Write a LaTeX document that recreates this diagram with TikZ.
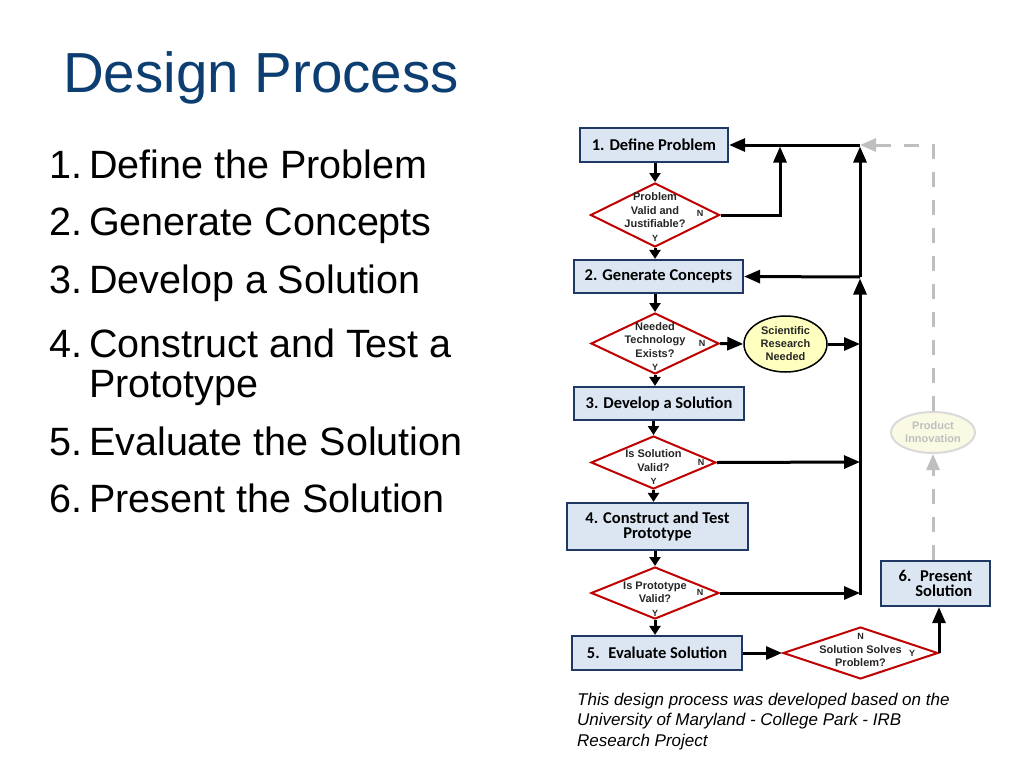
\documentclass[tikz,border=0pt]{standalone}
\usepackage{fontspec}
\setmainfont{Liberation Sans}
\newfontfamily\boxfont{Carlito}
\usetikzlibrary{shapes.geometric,arrows.meta}
\definecolor{titleblue}{RGB}{12,62,114}
\definecolor{boxblue}{RGB}{31,56,100}
\definecolor{boxfill}{RGB}{220,230,242}
\definecolor{qred}{RGB}{192,0,0}
\definecolor{resfill}{RGB}{255,255,192}
\definecolor{innfill}{RGB}{250,250,228}
\definecolor{ghost}{RGB}{191,191,191}
\tikzset{
  item/.style={anchor=base west, inner sep=0pt, font=\fontsize{39.5}{40}\selectfont},
  stepbox/.style={draw=boxblue, line width=2.2pt, fill=boxfill, align=center, inner sep=0pt,
    font=\boxfont\bfseries\fontsize{16.5}{15}\selectfont},
  query/.style={diamond, draw=qred, line width=2pt, fill=white, inner sep=0pt},
  qtext/.style={align=center, inner sep=0pt, text=black!85, font=\bfseries\fontsize{11}{13.5}\selectfont},
  yn/.style={inner sep=0pt, text=black!85, font=\bfseries\fontsize{9}{9}\selectfont},
  link/.style={line width=3pt, -{Triangle[length=9pt,width=11pt]}},
  back/.style={line width=3pt, -{Triangle[length=16pt,width=13pt]}},
  ghostline/.style={draw=ghost, line width=3pt, dash pattern=on 15pt off 13pt,
    -{Triangle[length=16pt,width=13pt]}},
}
\begin{document}
\begin{tikzpicture}[x=1pt,y=-1pt]
    \useasboundingbox[fill=white] (0,0) rectangle (1024,768);
    % Titolo ed elenco
    \node[anchor=base west, inner sep=0pt, text=titleblue, font=\fontsize{56.5}{60}\selectfont] (title) at (63,92) {Design Process};
    \node[item] (n1) at (49,178) {1.};
    \node[item] (t1) at (89,178) {Define the Problem};
    \node[item] (n2) at (49,235) {2.};
    \node[item] (t2) at (89,235) {Generate Concepts};
    \node[item] (n3) at (49,293) {3.};
    \node[item] (t3) at (89,293) {Develop a Solution};
    \node[item] (n4) at (49,357) {4.};
    \node[item] (t4) at (89,357) {Construct and Test a};
    \node[item] (t4b) at (89,397) {Prototype};
    \node[item] (n5) at (49,455) {5.};
    \node[item] (t5) at (89,455) {Evaluate the Solution};
    \node[item] (n6) at (49,512) {6.};
    \node[item] (t6) at (89,512) {Present the Solution};
    % Passi e domande
    \node[stepbox, minimum width=148pt, minimum height=34pt] (define) at (654,145) {1. Define Problem};
    \node[query, minimum width=129pt, minimum height=64pt] (qvalid) at (655,215) {};
    \node[qtext] (qvalidt) at ([yshift=-2pt]qvalid.center) {Problem\\Valid and\\Justifiable?\\{\fontsize{9}{9}\selectfont Y}};
    \node[yn] (qvalidn) at (700,213) {N};
    \node[stepbox, minimum width=169pt, minimum height=33pt] (concepts) at (658.5,276.5) {2. Generate Concepts};
    \node[query, minimum width=128pt, minimum height=61pt] (qtech) at (655,343.5) {};
    \node[qtext] (qtecht) at ([yshift=-3pt]qtech.center) {Needed\\Technology\\Exists?\\{\fontsize{9}{9}\selectfont Y}};
    \node[yn] (qtechn) at (702,343) {N};
    \node[ellipse, draw=black, line width=1.5pt, fill=resfill, minimum width=83pt, minimum height=56pt, qtext, font=\bfseries\fontsize{11}{13}\selectfont] (research) at (785.5,344) {Scientific\\Research\\Needed};
    \node[stepbox, minimum width=170pt, minimum height=33pt] (develop) at (659,403.5) {3. Develop a Solution};
    \node[query, minimum width=125pt, minimum height=53pt] (qsol) at (653.5,462.5) {};
    \node[qtext] (qsolt) at ([yshift=-5pt]qsol.center) {Is Solution\\Valid?\\{\fontsize{9}{9}\selectfont Y}};
    \node[yn] (qsoln) at (701,462) {N};
    \node[stepbox, minimum width=181pt, minimum height=47pt] (build) at (657.5,526.5) {4. Construct and Test\\Prototype};
    \node[query, minimum width=128pt, minimum height=52pt] (qproto) at (655,593) {};
    \node[qtext] (qprotot) at ([yshift=-6pt]qproto.center) {Is Prototype\\Valid?\\{\fontsize{9}{9}\selectfont Y}};
    \node[yn] (qproton) at (700,592) {N};
    \node[stepbox, minimum width=170pt, minimum height=34pt] (evaluate) at (657,653) {5.~ Evaluate Solution};
    \node[query, minimum width=155pt, minimum height=52pt] (qsolves) at (860.5,653) {};
    \node[qtext] (qsolvest) at ([yshift=3pt]qsolves.center) {{\fontsize{9}{9}\selectfont N}\\Solution Solves\\Problem?};
    \node[yn] (qsolvesy) at (912,653) {Y};
    \node[stepbox, minimum width=109pt, minimum height=45pt, align=right] (present) at (935.5,583.5) {6.~ Present\\Solution};
    \node[ellipse, draw=ghost!60, line width=2pt, fill=innfill, minimum width=84pt, minimum height=41pt, qtext, text=ghost, font=\bfseries\fontsize{11}{13}\selectfont] (innov) at (933,432.5) {Product\\Innovation};
    % Punti di raccordo
    \coordinate (c1) at (780,145);
    \coordinate (j1) at (860,145);
    \coordinate (j2) at (860,277);
    \coordinate (j3) at (860,344);
    \coordinate (j4) at (860,462);
    \coordinate (j5) at (860,593);
    % Frecce in colonna
    \draw[link] (define.south -| qvalid.north) -- (qvalid.north);
    \draw[link] (qvalid.south) -- (qvalid.south |- concepts.north);
    \draw[link] (concepts.south -| qtech.north) -- (qtech.north);
    \draw[link] (qtech.south) -- (qtech.south |- develop.north);
    \draw[link] (develop.south -| qsol.north) -- (qsol.north);
    \draw[link] (qsol.south) -- (qsol.south |- build.north);
    \draw[link] (build.south -| qproto.north) -- (qproto.north);
    \draw[link] (qproto.south) -- (qproto.south |- evaluate.north);
    % Ritorni
    \draw[back] (j1) -- (define.east);
    \draw[back] (qvalid.east) -| ([yshift=-1.5pt]c1);
    \draw[back] (j2) -- ([yshift=-1.5pt]j1);
    \draw[back] ([yshift=-1.5pt]j5) -- ([yshift=-1.5pt]j2);
    \draw[back] (j2) -- (concepts.east);
    \draw[back] (qtech.east) -- (research.west);
    \draw[back] (research.east) -- (j3);
    \draw[back] (qsol.east) -- (j4);
    \draw[back] (qproto.east) -- (j5);
    \draw[back] (evaluate.east) -- (qsolves.west);
    \draw[back] (qsolves.east) -- (qsolves.east |- present.south);
    % Innovazione
    \draw[ghostline] (innov.north) |- (j1);
    \draw[ghostline] (innov.south |- present.north) -- (innov.south);
    % Nota
    \node[anchor=north west, inner sep=0pt, align=left, font=\itshape\fontsize{17}{20.5}\selectfont] (note) at (577,692.5) {This design process was developed based on the\\University of Maryland - College Park - IRB\\Research Project};
\end{tikzpicture}
\end{document}
